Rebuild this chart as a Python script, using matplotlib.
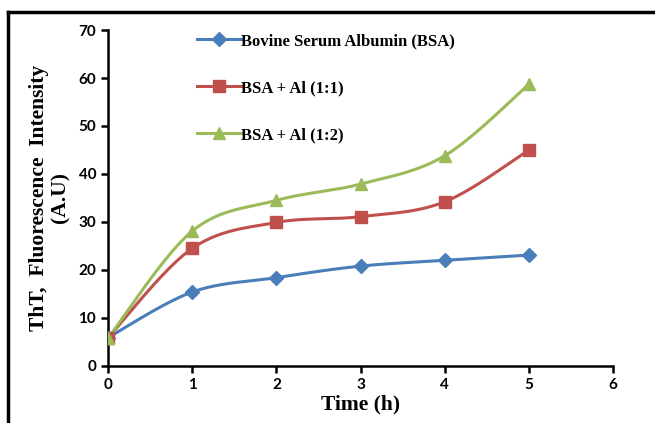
import numpy as np
import matplotlib
matplotlib.use("Agg")
import matplotlib.pyplot as plt
from matplotlib.lines import Line2D

time_h = [0, 1, 2, 3, 4, 5]
bsa = [5.9, 15.4, 18.4, 20.8, 22.0, 23.1]
bsa_al_11 = [5.9, 24.5, 29.9, 31.1, 34.2, 45.0]
bsa_al_12 = [5.8, 28.1, 34.5, 37.9, 43.8, 58.7]
labels = ["Bovine Serum Albumin (BSA)", "BSA + Al (1:1)", "BSA + Al (1:2)"]
colors = ["#4A7EBB", "#C0504D", "#9BBB59"]
markers = ["D", "s", "^"]
msizes = [7, 9, 9]


def smooth(xs, ys, n=40):
    xs = np.asarray(xs, float)
    ys = np.asarray(ys, float)
    P = np.column_stack([xs, ys])
    out = []
    for i in range(len(P) - 1):
        p0 = P[i - 1] if i > 0 else P[i]
        p1, p2 = P[i], P[i + 1]
        p3 = P[i + 2] if i + 2 < len(P) else P[i + 1]
        c1 = p1 + (p2 - p0) / 6.0
        c2 = p2 - (p3 - p1) / 6.0
        t = np.linspace(0, 1, n)[:, None]
        seg = ((1 - t) ** 3) * p1 + 3 * ((1 - t) ** 2) * t * c1 + 3 * (1 - t) * t ** 2 * c2 + t ** 3 * p2
        out.append(seg if i == 0 else seg[1:])
    S = np.vstack(out)
    return S[:, 0], S[:, 1]


fig = plt.figure(figsize=(6.55, 4.23), dpi=100)
ax = fig.add_axes([0.165, 0.135, 0.771, 0.794])

handles = []
for ys, lab, c, m, ms in zip([bsa, bsa_al_11, bsa_al_12], labels, colors, markers, msizes):
    sx, sy = smooth(time_h, ys)
    ax.plot(sx, sy, color=c, lw=2.2, zorder=2)
    ax.plot(time_h, ys, linestyle="none", marker=m, color=c, ms=ms, zorder=3)
    handles.append(Line2D([], [], color=c, lw=2.2, marker=m, ms=ms))

ax.set_xlim(0, 6)
ax.set_ylim(0, 70)
ax.set_xticks(range(0, 7))
ax.set_yticks(range(0, 71, 10))
for s in ["top", "right"]:
    ax.spines[s].set_visible(False)
for s in ["left", "bottom"]:
    ax.spines[s].set_linewidth(1.8)
    ax.spines[s].set_color("black")
ax.tick_params(direction="out", width=1.8, length=5, labelsize=11)
for lbl in ax.get_xticklabels() + ax.get_yticklabels():
    lbl.set_fontfamily("Lato")
    lbl.set_fontweight("bold")

ax.set_xlabel("Time (h)", fontsize=15.5, fontweight="bold", family="Liberation Serif", labelpad=2)
ax.set_ylabel("ThT,  Fluorescence  Intensity\n(A.U)", fontsize=15.5, fontweight="bold",
              family="Liberation Serif", labelpad=6, linespacing=1.05)

leg = ax.legend(handles, labels, loc="upper left", bbox_to_anchor=(0.147, 1.035), frameon=False,
                handlelength=2.6, handletextpad=0.0, labelspacing=1.85,
                prop={"family": "Liberation Serif", "weight": "bold", "size": 12})

# outer frame (partially cropped)
fig.add_artist(Line2D([8 / 655, 8 / 655], [0, 1 - 12 / 423], transform=fig.transFigure, color="black", lw=2.5))
fig.add_artist(Line2D([8 / 655, 1], [1 - 12 / 423, 1 - 12 / 423], transform=fig.transFigure, color="black", lw=2.5))

fig.savefig("out.png", dpi=100)
